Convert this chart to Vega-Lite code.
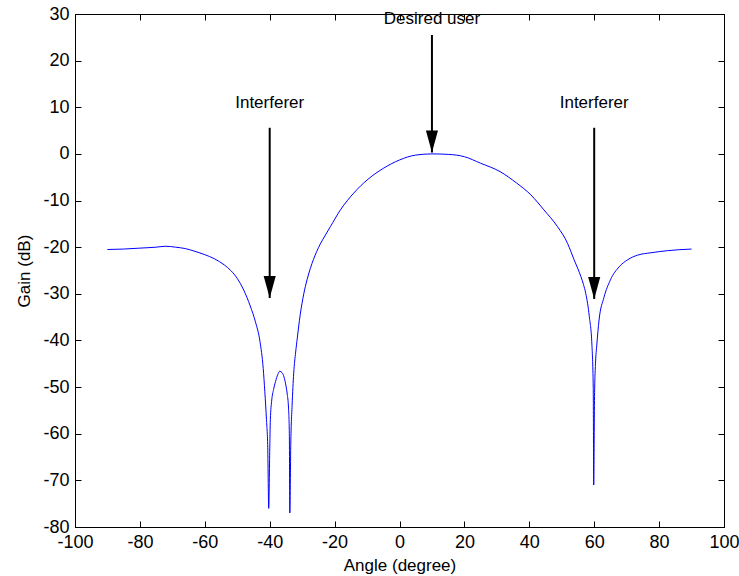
{
  "$schema": "https://vega.github.io/schema/vega-lite/v6.json",
  "autosize": {"type": "none"},
  "width": 649,
  "height": 513,
  "padding": {"left": 75, "top": 14, "right": 15, "bottom": 49},
  "background": "white",
  "config": {
    "view": {"stroke": "black", "strokeWidth": 1},
    "font": "Liberation Sans",
    "axis": {
      "grid": false,
      "domainColor": "black",
      "tickColor": "black",
      "labelColor": "black",
      "titleColor": "black",
      "labelFont": "Liberation Sans",
      "titleFont": "Liberation Sans",
      "labelFontSize": 18,
      "titleFontSize": 17,
      "titleFontWeight": "normal",
      "tickSize": -6,
      "labelFlush": false,
      "labelOverlap": false,
      "labelExpr": "datum.value + ''"
    }
  },
  "datasets": {
    "curve": [
      {"angle": -90, "gain": -20.5}, {"angle": -85, "gain": -20.4}, {"angle": -80, "gain": -20.2},
      {"angle": -75, "gain": -20.0}, {"angle": -72, "gain": -19.8}, {"angle": -69, "gain": -20.0},
      {"angle": -66, "gain": -20.3}, {"angle": -63, "gain": -20.9}, {"angle": -60, "gain": -21.6},
      {"angle": -57, "gain": -22.5}, {"angle": -54, "gain": -23.8}, {"angle": -52, "gain": -25.0},
      {"angle": -50, "gain": -26.7}, {"angle": -48, "gain": -29.2}, {"angle": -46, "gain": -32.6},
      {"angle": -44.4, "gain": -36.0}, {"angle": -43, "gain": -40.2}, {"angle": -42, "gain": -46.0},
      {"angle": -41.5, "gain": -51.0}, {"angle": -41, "gain": -57.0}, {"angle": -40.6, "gain": -63.0},
      {"angle": -40.3, "gain": -76.0}, {"angle": -40.0, "gain": -64.0}, {"angle": -39.8, "gain": -57.0},
      {"angle": -39.4, "gain": -53.0}, {"angle": -38.8, "gain": -50.5}, {"angle": -38.2, "gain": -48.8},
      {"angle": -37.5, "gain": -47.3}, {"angle": -36.9, "gain": -46.6}, {"angle": -36.2, "gain": -46.9},
      {"angle": -35.6, "gain": -47.8}, {"angle": -35.1, "gain": -49.3}, {"angle": -34.6, "gain": -51.5},
      {"angle": -34.2, "gain": -54.5}, {"angle": -33.95, "gain": -60.0}, {"angle": -33.8, "gain": -77.0},
      {"angle": -33.5, "gain": -62.0}, {"angle": -33.1, "gain": -54.0}, {"angle": -32.6, "gain": -47.0},
      {"angle": -32.0, "gain": -42.5}, {"angle": -31.5, "gain": -39.5}, {"angle": -30.6, "gain": -34.5},
      {"angle": -29.5, "gain": -30.0}, {"angle": -28.5, "gain": -27.0}, {"angle": -27.5, "gain": -24.6},
      {"angle": -26.5, "gain": -22.6}, {"angle": -25.5, "gain": -20.9}, {"angle": -24.4, "gain": -19.3},
      {"angle": -23, "gain": -17.6}, {"angle": -21.3, "gain": -15.6}, {"angle": -18.2, "gain": -12.0},
      {"angle": -14.1, "gain": -8.4}, {"angle": -10, "gain": -5.6}, {"angle": -5, "gain": -3.1},
      {"angle": 0, "gain": -1.3}, {"angle": 5, "gain": -0.25}, {"angle": 10, "gain": 0},
      {"angle": 15, "gain": -0.1}, {"angle": 20, "gain": -0.6}, {"angle": 25, "gain": -2.0},
      {"angle": 31, "gain": -3.8}, {"angle": 36, "gain": -6.2}, {"angle": 40.5, "gain": -8.8},
      {"angle": 44.5, "gain": -12.0}, {"angle": 48.7, "gain": -15.6}, {"angle": 51.8, "gain": -19.2},
      {"angle": 52.8, "gain": -20.9}, {"angle": 53.8, "gain": -22.7}, {"angle": 54.9, "gain": -24.5},
      {"angle": 55.9, "gain": -26.3}, {"angle": 56.7, "gain": -28.0}, {"angle": 57.4, "gain": -29.9},
      {"angle": 58.5, "gain": -34.9}, {"angle": 59.3, "gain": -41.0}, {"angle": 59.7, "gain": -50.0},
      {"angle": 59.85, "gain": -71.0}, {"angle": 60.1, "gain": -52.0}, {"angle": 60.4, "gain": -45.0},
      {"angle": 60.8, "gain": -41.0}, {"angle": 61.5, "gain": -35.6}, {"angle": 63, "gain": -30.8},
      {"angle": 65, "gain": -27.0}, {"angle": 67.7, "gain": -24.2}, {"angle": 70.3, "gain": -22.7},
      {"angle": 73.4, "gain": -21.7}, {"angle": 77.5, "gain": -21.2}, {"angle": 82.6, "gain": -20.75},
      {"angle": 86, "gain": -20.55}, {"angle": 90, "gain": -20.4}
    ],
    "arrows": [
      {"x": -40, "top": 5.6, "tip": -30.9},
      {"x": 10, "top": 25.5, "tip": 0.3},
      {"x": 60, "top": 5.6, "tip": -31.1}
    ],
    "labels": [
      {"x": -40, "y": 10.9, "text": "Interferer"},
      {"x": 10, "y": 29.0, "text": "Desired user"},
      {"x": 60, "y": 10.9, "text": "Interferer"}
    ]
  },
  "layer": [
    {
      "data": {"name": "curve"},
      "mark": {"type": "line", "color": "#0000ff", "strokeWidth": 1, "clip": true, "interpolate": "monotone"},
      "encoding": {
        "x": {
          "field": "angle", "type": "quantitative",
          "scale": {"domain": [-100, 100], "nice": false, "zero": false},
          "axis": {"orient": "bottom", "values": [-100, -80, -60, -40, -20, 0, 20, 40, 60, 80, 100], "title": "Angle (degree)", "labelPadding": 12, "titlePadding": 6}
        },
        "y": {
          "field": "gain", "type": "quantitative",
          "scale": {"domain": [-80, 30], "nice": false, "zero": false},
          "axis": {"orient": "left", "values": [-80, -70, -60, -50, -40, -30, -20, -10, 0, 10, 20, 30], "title": "Gain (dB)", "labelPadding": 12, "titlePadding": 9}
        }
      }
    },
    {
      "data": {"name": "arrows"},
      "mark": {"type": "rule", "color": "black", "strokeWidth": 2},
      "encoding": {
        "x": {"field": "x", "type": "quantitative", "axis": {"orient": "top", "values": [-100, -80, -60, -40, -20, 0, 20, 40, 60, 80, 100], "labels": false, "title": null}},
        "y": {"field": "top", "type": "quantitative", "axis": {"orient": "right", "values": [-80, -70, -60, -50, -40, -30, -20, -10, 0, 10, 20, 30], "labels": false, "title": null}},
        "y2": {"field": "tip"}
      }
    },
    {
      "data": {"name": "arrows"},
      "mark": {"type": "point", "shape": "M-0.55,-2L0.55,-2L0,0Z", "filled": true, "color": "black", "opacity": 1, "size": 484},
      "encoding": {
        "x": {"field": "x", "type": "quantitative", "axis": null},
        "y": {"field": "tip", "type": "quantitative", "axis": null}
      }
    },
    {
      "data": {"name": "labels"},
      "mark": {"type": "text", "font": "Liberation Sans", "fontSize": 17, "color": "black", "align": "center", "baseline": "middle"},
      "encoding": {
        "x": {"field": "x", "type": "quantitative", "axis": null},
        "y": {"field": "y", "type": "quantitative", "axis": null},
        "text": {"field": "text"}
      }
    }
  ],
  "resolve": {"axis": {"x": "independent", "y": "independent"}}
}
